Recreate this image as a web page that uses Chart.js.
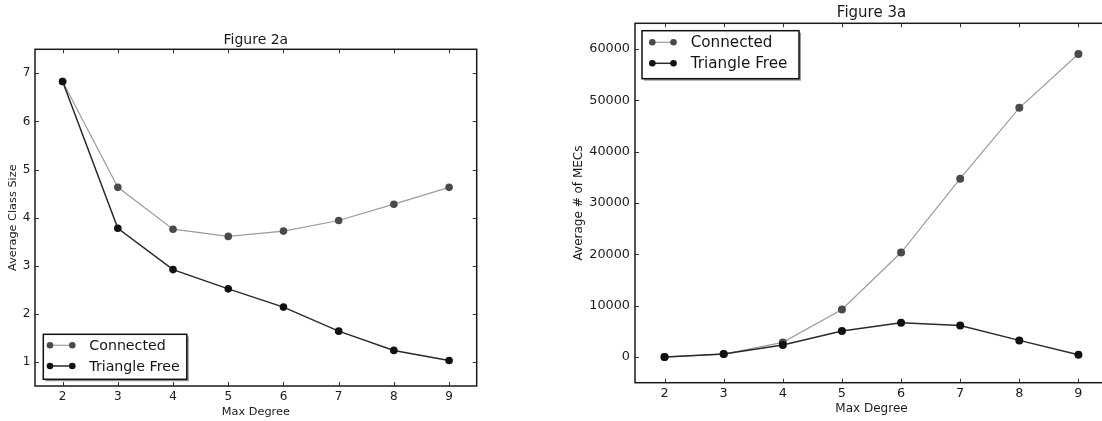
<!DOCTYPE html>
<html>
<head>
<meta charset="utf-8">
<script src="https://cdn.jsdelivr.net/npm/chart.js@4.4.1/dist/chart.umd.min.js"></script>
<style>
  html, body { margin: 0; padding: 0; background: #fff; overflow: hidden; width: 1102px; height: 421px; }
  .wrap { position: absolute; top: 0; }
  #w1 { left: 0; width: 490px; height: 421px; }
  #w2 { left: 560px; width: 560px; height: 421px; }
</style>
</head>
<body>
<div class="wrap" id="w1"><canvas id="c1"></canvas></div>
<div class="wrap" id="w2"><canvas id="c2"></canvas></div>
<script>
// ---- data ----
const degrees = ['2', '3', '4', '5', '6', '7', '8', '9'];
const fig2Connected    = [6.83, 4.63, 3.76, 3.61, 3.72, 3.94, 4.28, 4.63];
const fig2TriangleFree = [6.83, 3.78, 2.92, 2.52, 2.14, 1.64, 1.24, 1.03];
const fig3Connected    = [0, 580, 2850, 9270, 20350, 34730, 48530, 59030];
const fig3TriangleFree = [0, 580, 2330, 5050, 6670, 6150, 3240, 450];
const fig2YTicks = [1, 2, 3, 4, 5, 6, 7];
const fig3YTicks = [0, 10000, 20000, 30000, 40000, 50000, 60000];
const seriesNames = ['Connected', 'Triangle Free'];

const FONT = '"DejaVu Sans", "Liberation Sans", sans-serif';

// frame, inward ticks and in-plot legend (matplotlib style)
const framePlugin = {
  id: 'frame',
  afterDraw(chart, args, opts) {
    const ctx = chart.ctx;
    const a = chart.chartArea;
    const xs = chart.scales.x, ys = chart.scales.y;
    ctx.save();
    // inward ticks
    ctx.strokeStyle = '#333';
    ctx.lineWidth = 1;
    ctx.beginPath();
    xs.ticks.forEach((t, i) => {
      const px = Math.round(xs.getPixelForTick(i)) + 0.5;
      ctx.moveTo(px, a.bottom); ctx.lineTo(px, a.bottom - 4);
      ctx.moveTo(px, a.top); ctx.lineTo(px, a.top + 4);
    });
    ys.ticks.forEach(t => {
      const py = Math.round(ys.getPixelForValue(t.value)) + 0.5;
      ctx.moveTo(a.left, py); ctx.lineTo(a.left + 4, py);
      ctx.moveTo(a.right, py); ctx.lineTo(a.right - 4, py);
    });
    ctx.stroke();
    // frame
    ctx.strokeStyle = '#1a1a1a';
    ctx.lineWidth = 1.5;
    ctx.strokeRect(a.left, a.top, a.right - a.left, a.bottom - a.top);

    // legend
    const L = opts.legend;
    if (L) {
      const bx = a.left + L.dx;
      const by = L.fromBottom ? a.bottom - L.dy - L.h : a.top + L.dy;
      ctx.fillStyle = '#9a9a9a';
      ctx.fillRect(bx + 2, by + 2, L.w, L.h);
      ctx.fillStyle = '#fff';
      ctx.fillRect(bx, by, L.w, L.h);
      ctx.strokeStyle = '#111';
      ctx.lineWidth = 1.5;
      ctx.strokeRect(bx, by, L.w, L.h);
      chart.data.datasets.forEach((ds, i) => {
        const ry = by + L.rows[i];
        ctx.strokeStyle = ds.borderColor;
        ctx.lineWidth = ds.borderWidth;
        ctx.beginPath();
        ctx.moveTo(bx + L.m1, ry); ctx.lineTo(bx + L.m2, ry);
        ctx.stroke();
        ctx.fillStyle = ds.pointBackgroundColor;
        [L.m1, L.m2].forEach(mx => {
          ctx.beginPath();
          ctx.arc(bx + mx, ry, 3.3, 0, Math.PI * 2);
          ctx.fill();
        });
        ctx.fillStyle = '#151515';
        ctx.font = L.fontSize + 'px ' + FONT;
        ctx.textBaseline = 'middle';
        ctx.textAlign = 'left';
        ctx.fillText(ds.label, bx + L.tx, ry + 1);
      });
    }
    ctx.restore();
  }
};

function makeChart(canvasId, cfg) {
  return new Chart(document.getElementById(canvasId), {
    type: 'line',
    data: {
      labels: degrees,
      datasets: [
        {
          label: seriesNames[0],
          data: cfg.connected,
          borderColor: '#9c9c9c',
          borderWidth: 1.2,
          pointBackgroundColor: '#4a4a4a',
          pointBorderColor: '#4a4a4a',
          pointRadius: cfg.pr,
          pointBorderWidth: 0,
          tension: 0,
          order: 1
        },
        {
          label: seriesNames[1],
          data: cfg.triangle,
          borderColor: '#2a2a2a',
          borderWidth: 1.5,
          pointBackgroundColor: '#111',
          pointBorderColor: '#111',
          pointRadius: cfg.pr,
          pointBorderWidth: 0,
          tension: 0,
          order: 0
        }
      ]
    },
    options: {
      responsive: true,
      maintainAspectRatio: false,
      animation: false,
      events: [],
      layout: { padding: { left: 0, right: cfg.padRight, top: 0, bottom: 0 } },
      plugins: {
        legend: { display: false },
        tooltip: { enabled: false },
        title: {
          display: true,
          text: cfg.title,
          fullSize: false,
          color: '#1a1a1a',
          font: { family: FONT, size: cfg.titleSize, weight: 'normal' },
          padding: { top: cfg.titleTop, bottom: cfg.titleBottom }
        },
        frame: { legend: cfg.legend }
      },
      scales: {
        x: {
          type: 'category',
          offset: true,
          grid: { display: false, drawTicks: false },
          border: { display: false },
          ticks: {
            color: '#1a1a1a',
            padding: cfg.xTickPad,
            font: { family: FONT, size: cfg.tickSize },
            maxRotation: 0, autoSkip: false
          },
          title: {
            display: true,
            text: 'Max Degree',
            color: '#1a1a1a',
            font: { family: FONT, size: cfg.axisSize },
            padding: { top: 0, bottom: cfg.xTitlePad }
          },
          afterFit(s) { s.height = cfg.xHeight; }
        },
        y: {
          type: 'linear',
          min: cfg.yMin,
          max: cfg.yMax,
          grid: { display: false, drawTicks: false },
          border: { display: false },
          afterBuildTicks(s) { s.ticks = cfg.yTicks.map(v => ({ value: v })); },
          ticks: {
            color: '#1a1a1a',
            padding: cfg.yTickPad,
            font: { family: FONT, size: cfg.tickSize },
            callback: v => String(v)
          },
          title: {
            display: true,
            text: cfg.yTitle,
            color: '#1a1a1a',
            font: { family: FONT, size: cfg.axisSize },
            padding: { top: cfg.yTitlePad, bottom: 0 }
          },
          afterFit(s) { s.width = cfg.yWidth; }
        }
      }
    },
    plugins: [framePlugin]
  });
}

makeChart('c1', {
  title: 'Figure 2a',
  yTitle: 'Average Class Size',
  connected: fig2Connected,
  triangle: fig2TriangleFree,
  yTicks: fig2YTicks,
  yMin: 0.5, yMax: 7.5,
  pr: 3.8,
  padRight: 13.3,
  titleSize: 14, titleTop: 31.6, titleBottom: 0.9,
  tickSize: 12, axisSize: 11.3,
  xTickPad: 4, xTitlePad: 2.1, xHeight: 35,
  yTickPad: 4.5, yTitlePad: 5.9, yWidth: 35,
  legend: { dx: 8.3, dy: 6.7, fromBottom: true, w: 143.5, h: 45, rows: [11, 31.7], m1: 6.7, m2: 29, tx: 46, fontSize: 14.2 }
});

makeChart('c2', {
  title: 'Figure 3a',
  yTitle: 'Average # of MECs',
  connected: fig3Connected,
  triangle: fig3TriangleFree,
  yTicks: fig3YTicks,
  yMin: -5000, yMax: 65000,
  pr: 4,
  padRight: 12,
  titleSize: 15, titleTop: 4.3, titleBottom: 1,
  tickSize: 12.8, axisSize: 12,
  xTickPad: 3, xTitlePad: 4.5, xHeight: 38.3,
  yTickPad: 5, yTitlePad: 11.8, yWidth: 75,
  legend: { dx: 7, dy: 7.4, fromBottom: false, w: 157, h: 48, rows: [11.6, 32.6], m1: 10.3, m2: 31.5, tx: 48.7, fontSize: 15.2 }
});
</script>
</body>
</html>
